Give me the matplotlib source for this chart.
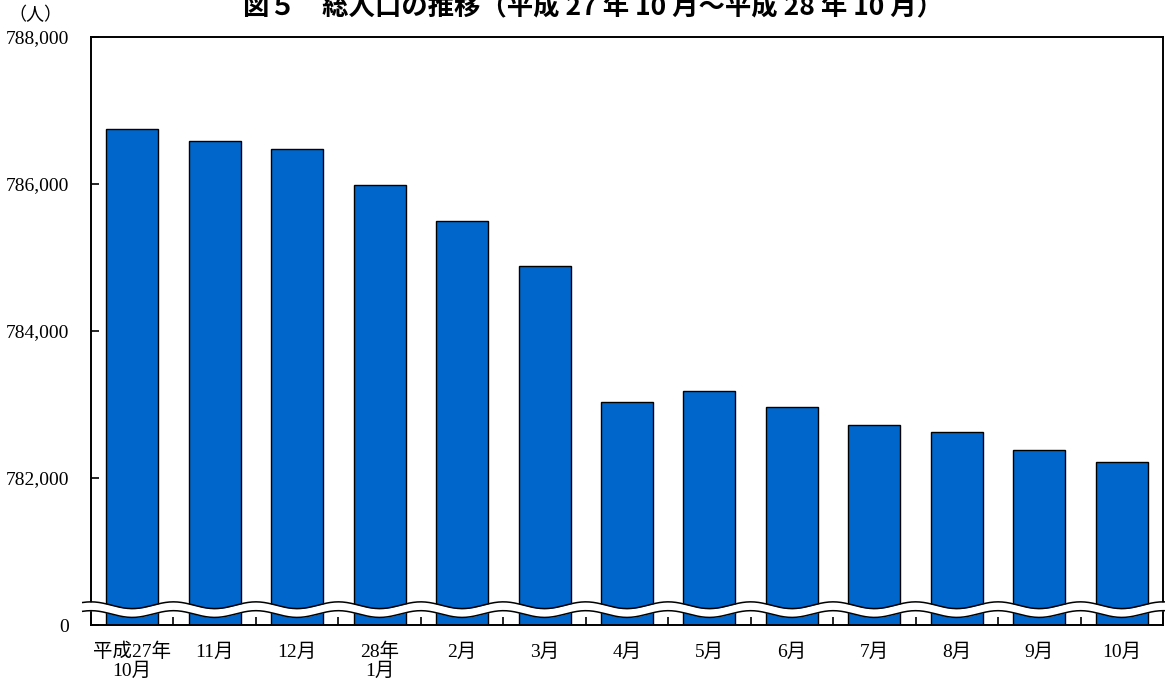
import numpy as np
import matplotlib
matplotlib.use("Agg")
from matplotlib import pyplot as plt

# 月別の総人口（人）
months = ['平成27年\n10月', '11月', '12月', '28年\n1月', '2月', '3月', '4月',
          '5月', '6月', '7月', '8月', '9月', '10月']
population = [786750, 786590, 786480, 785980, 785500, 784890, 783030,
              783190, 782960, 782720, 782620, 782380, 782220]
y_ticks = [780000, 782000, 784000, 786000, 788000]
y_tick_labels = ['0', '782,000', '784,000', '786,000', '788,000']

fam = ['Liberation Serif', 'Noto Sans CJK JP']
plt.rcParams['font.family'] = fam

fig = plt.figure(figsize=(11.65, 6.82), dpi=100)
ax = fig.add_axes([91 / 1165, 57 / 682, 1072 / 1165, 588 / 682])

x = np.arange(len(months))
ax.bar(x, population, width=0.63, color='#0066CC', edgecolor='black',
       linewidth=1.0, zorder=2)

ax.set_xlim(-0.5, len(months) - 0.5)
ax.set_ylim(780000, 788000)
ax.set_yticks(y_ticks)
ax.set_yticklabels(y_tick_labels, fontsize=14)
ax.set_xticks(x)
ax.set_xticklabels(months, fontsize=14, linespacing=1.1)
ax.tick_params(axis='x', length=0, pad=13)
ax.tick_params(axis='y', direction='in', length=6, width=1.2, pad=16)
# 区切りの目盛り
ax.set_xticks(np.arange(len(months) + 1) - 0.5, minor=True)
ax.tick_params(axis='x', which='minor', direction='in', length=6, width=1.2)
for s in ax.spines.values():
    s.set_linewidth(1.4)
    s.set_zorder(5)

# 波線（省略記号）
wx = np.linspace(-0.6, len(months) - 0.48, 800)
center = 780209 + 46 * np.cos(2 * np.pi * (wx + 0.5))
half = 60
ax.fill_between(wx, center - half, center + half, color='white', zorder=6,
                clip_on=False, linewidth=0)
ax.plot(wx, center - half, color='black', lw=1.1, zorder=7, clip_on=False)
ax.plot(wx, center + half, color='black', lw=1.1, zorder=7, clip_on=False)

fig.text(35 / 1165, 1 - 15 / 682, '（人）', fontsize=13, ha='center', va='center')
fig.text(593 / 1165, 1 - 8 / 682,
         '図５　総人口の推移（平成 27 年 10 月～平成 28 年 10 月）',
         fontsize=19, fontweight='bold', ha='center', va='center',
         family=['Noto Sans CJK JP', 'DejaVu Sans'])

fig.savefig('out.png', dpi=100)
